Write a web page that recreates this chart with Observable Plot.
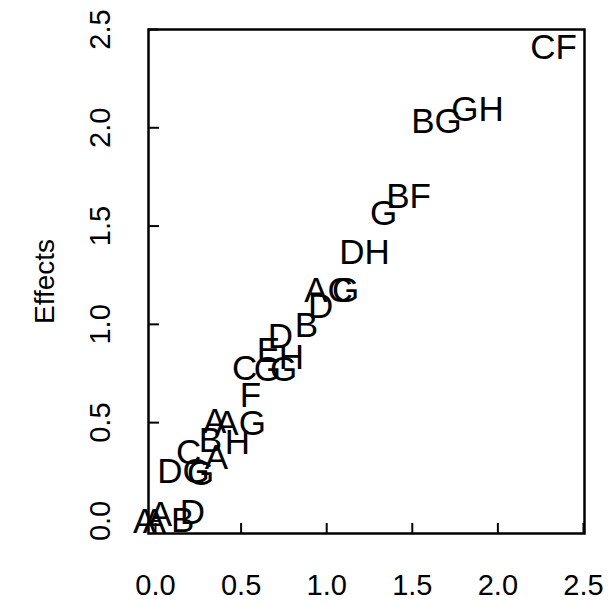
<!DOCTYPE html>
<html>
<head>
<meta charset="utf-8">
<script src="https://cdn.jsdelivr.net/npm/d3@7"></script>
<script src="https://cdn.jsdelivr.net/npm/@observablehq/plot@0.6"></script>
<style>
  html, body { margin: 0; padding: 0; background: #fff; }
  #chart svg { display: block; }
</style>
</head>
<body>
<div id="chart"></div>
<script>
// Effect labels, half-normal quantiles (x) and absolute effects (y)
const labels = ["A","A","A","B","D","DG","C","G","B","A","A","H","AG","C","F","E","G","D","G","H","B","D","AC","G","DH","G","BF","BG","GH","CF"];
const quantiles = [-0.064,-0.006,0.029,0.158,0.216,0.164,0.193,0.263,0.321,0.345,0.356,0.479,0.497,0.520,0.555,0.660,0.654,0.730,0.748,0.794,0.882,0.964,1.011,1.110,1.221,1.332,1.478,1.641,1.881,2.325];
const effects = [-0.003,-0.003,0.033,0.000,0.043,0.252,0.349,0.242,0.410,0.506,0.323,0.399,0.496,0.776,0.634,0.863,0.771,0.939,0.771,0.832,0.995,1.087,1.173,1.170,1.366,1.560,1.651,2.033,2.089,2.405];
const xTicks = [0, 0.5, 1, 1.5, 2, 2.5];
const yTicks = [0, 0.5, 1, 1.5, 2, 2.5];
const yTitle = "Effects";

const data = labels.map((l, i) => ({label: l, x: quantiles[i], y: effects[i]}));

const font = "'Liberation Sans', Arial, Helvetica, sans-serif";

const chart = Plot.plot({
  width: 611,
  height: 605,
  marginLeft: 148,
  marginRight: 27,
  marginTop: 29,
  marginBottom: 72,
  style: {fontFamily: font, background: "#fff", color: "#000"},
  x: {domain: [-0.041, 2.506], axis: null},
  y: {domain: [-0.064, 2.5], axis: null},
  marks: [
    Plot.frame({stroke: "#000", strokeWidth: 2.5}),
    Plot.axisX(xTicks, {anchor: "bottom", tickSize: -10, strokeWidth: 2, text: null, label: null}),
    Plot.axisY(yTicks, {anchor: "left", tickSize: -11, strokeWidth: 2, text: null, label: null}),
    Plot.text(xTicks, {x: d => d, frameAnchor: "bottom", dy: 52, textAnchor: "middle", lineAnchor: "middle", text: d => d.toFixed(1), fontSize: 29, fill: "#000"}),
    Plot.text(yTicks, {y: d => d, frameAnchor: "left", dx: -48, rotate: -90, textAnchor: "middle", lineAnchor: "middle", text: d => d.toFixed(1), fontSize: 29, fill: "#000"}),
    Plot.text([yTitle], {frameAnchor: "left", dx: -103, rotate: -90, textAnchor: "middle", lineAnchor: "middle", text: d => d, fontSize: 28, fill: "#000"}),
    Plot.text(data, {x: "x", y: "y", text: "label", fontSize: 35, fill: "#000"})
  ]
});

document.getElementById("chart").appendChild(chart);
</script>
</body>
</html>
